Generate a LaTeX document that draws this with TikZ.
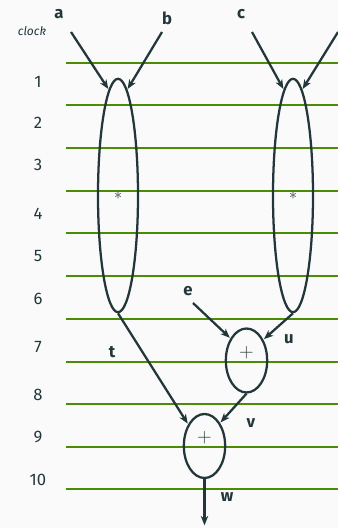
\documentclass[tikz,border=0pt]{standalone}
\usepackage{fontspec}
\setmainfont{Fira Sans}
\setsansfont{Fira Sans}
\usepackage{xcolor}
\usetikzlibrary{arrows.meta, shapes.geometric}
\definecolor{tealscuro}{HTML}{23373B}
\definecolor{verdeclock}{RGB}{75,140,5}
\definecolor{sfondo}{HTML}{FAFAFA}

\begin{document}
\begin{tikzpicture}[x=0.75pt, y=-0.75pt,
    op/.style={ellipse, draw=tealscuro, line width=1.7pt, inner sep=0pt, text=tealscuro},
    mul/.style={op, minimum width=30pt, minimum height=175pt, font=\fontsize{12}{13}\selectfont},
    add/.style={op, minimum width=31pt, minimum height=48pt},
    segno/.style={text=tealscuro, font=\fontsize{14}{15}\selectfont, yshift=6pt},
    var/.style={text=tealscuro, font=\fontsize{12.5}{14}\selectfont\bfseries, inner sep=0pt},
    num/.style={text=tealscuro, font=\fontsize{12.5}{14}\selectfont, inner sep=0pt},
    clk/.style={line width=1.6pt, draw=verdeclock},
    flow/.style={-{Stealth[length=7pt, width=5.5pt, inset=2pt]}, line width=1.7pt, draw=tealscuro, shorten >=0.5pt}
]
\clip (0,0) rectangle (338,528);
\fill[sfondo] (0,0) rectangle (338,528);

% Cicli di clock
\node[text=tealscuro, font=\fontsize{9}{10}\selectfont\itshape, inner sep=0pt] (clock) at (32,31) {clock};
\foreach \y in {63,105,148,191,233,276,319,362,404,447,489}
    \draw[clk] (66,\y) -- (345,\y);
\foreach \n/\y in {1/82,2/123,3/165,4/214,5/256,6/299,7/347,8/395,9/437,10/480}
    \node[num] (c\n) at (38,\y) {\n};

% Operazioni
\node[mul] (m1) at (118,195.5) {$*$};
\node[mul] (m2) at (293,195.5) {$*$};
\node[add, label={[segno]center:$+$}] (s1) at (246.5,360.5) {};
\node[add, label={[segno]center:$+$}] (s2) at (204.5,446) {};

% Ingressi
\coordinate (ia) at (71,32);
\coordinate (ib) at (162,32);
\coordinate (ic) at (252,32);
\coordinate (id) at (338,32);
\coordinate (ie) at (193,303);
\coordinate (ow) at (204.5,526);

\node[var] (la) at (59,14) {a};
\node[var] (lb) at (167,18) {b};
\node[var] (lc) at (241,14) {c};
\node[var] (ld) at (343,18) {d};
\node[var] (le) at (188,291) {e};
\node[var] (lt) at (112,352) {t};
\node[var] (lu) at (289,339) {u};
\node[var] (lv) at (251,423) {v};
\node[var] (lw) at (227,497) {w};

\draw[flow] (ia) -- (m1.95);
\draw[flow] (ib) -- (m1.85);
\draw[flow] (ic) -- (m2.95);
\draw[flow] (id) -- (m2.85);
\draw[flow] (ie) -- (s1.126);
\draw[flow] (m2.south) -- (s1.51);
\draw[flow] (m1.south) -- (s2.127);
\draw[flow] (s1.south) -- (s2.56);
\draw[flow] (s2.south) -- (ow);

\end{tikzpicture}
\end{document}
